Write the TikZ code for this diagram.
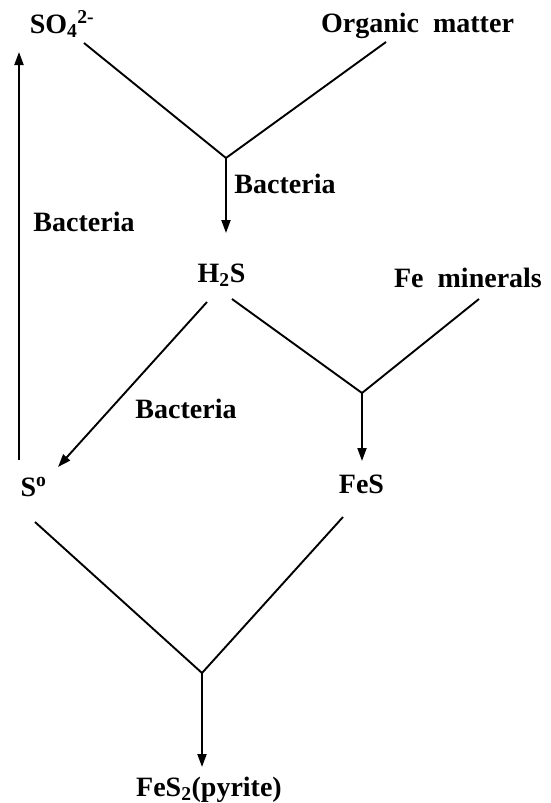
\documentclass[tikz,border=0pt]{standalone}
\usepackage{fontspec}
\setmainfont{Liberation Serif}
\usetikzlibrary{arrows.meta}
\newcommand{\wsp}{\hspace{0.5em}}

\begin{document}
\begin{tikzpicture}[
  x=1pt, y=-1pt,
  lbl/.style={inner sep=0pt, anchor=base, font=\fontsize{28}{33}\selectfont\bfseries},
  line/.style={line width=1.9pt},
  arrow/.style={line width=1.9pt, -{Triangle[length=13pt,width=9pt]}}
]
\useasboundingbox (0,0) rectangle (550,803);
\node[lbl] (so4) at (62,33) {SO\textsubscript{4}\textsuperscript{2-}};
\node[lbl] (organic) at (417.5,32) {Organic\wsp matter};
\node[lbl] (bact1) at (285,193) {Bacteria};
\node[lbl] (bact2) at (84,231) {Bacteria};
\node[lbl] (h2s) at (221.5,282) {H\textsubscript{2}S};
\node[lbl] (femin) at (468,287) {Fe\wsp minerals};
\node[lbl] (bact3) at (186,418) {Bacteria};
\node[lbl] (s0) at (33.5,496) {S\textsuperscript{o}};
\node[lbl] (fes) at (361.5,493) {FeS};
\node[lbl] (pyrite) at (209,796) {FeS\textsubscript{2}(pyrite)};

\coordinate (j1) at (226,158);
\coordinate (j2) at (362,393);
\coordinate (j3) at (202,673);

\draw[line] ([xshift=22pt,yshift=-10pt]so4.base) -- (j1);
\draw[line] ([xshift=-31.5pt,yshift=-10pt]organic.base) -- (j1);
\draw[arrow] (j1) -- ([xshift=4.5pt,yshift=49pt]h2s.base);
\draw[arrow] ([xshift=-14.5pt,yshift=-20pt]h2s.base) -- ([xshift=24.5pt,yshift=29pt]s0.base);
\draw[line] ([xshift=10.5pt,yshift=-17pt]h2s.base) -- (j2);
\draw[line] ([xshift=11pt,yshift=-12pt]femin.base) -- (j2);
\draw[arrow] (j2) -- ([xshift=0.5pt,yshift=32pt]fes.base);
\draw[arrow] ([xshift=-14.5pt,yshift=36pt]s0.base) -- ([xshift=-43pt,yshift=-19pt]so4.base);
\draw[line] ([xshift=1.5pt,yshift=-26pt]s0.base) -- (j3);
\draw[line] ([xshift=-18.5pt,yshift=-24pt]fes.base) -- (j3);
\draw[arrow] (j3) -- ([xshift=-7pt,yshift=29pt]pyrite.base);
\end{tikzpicture}
\end{document}
